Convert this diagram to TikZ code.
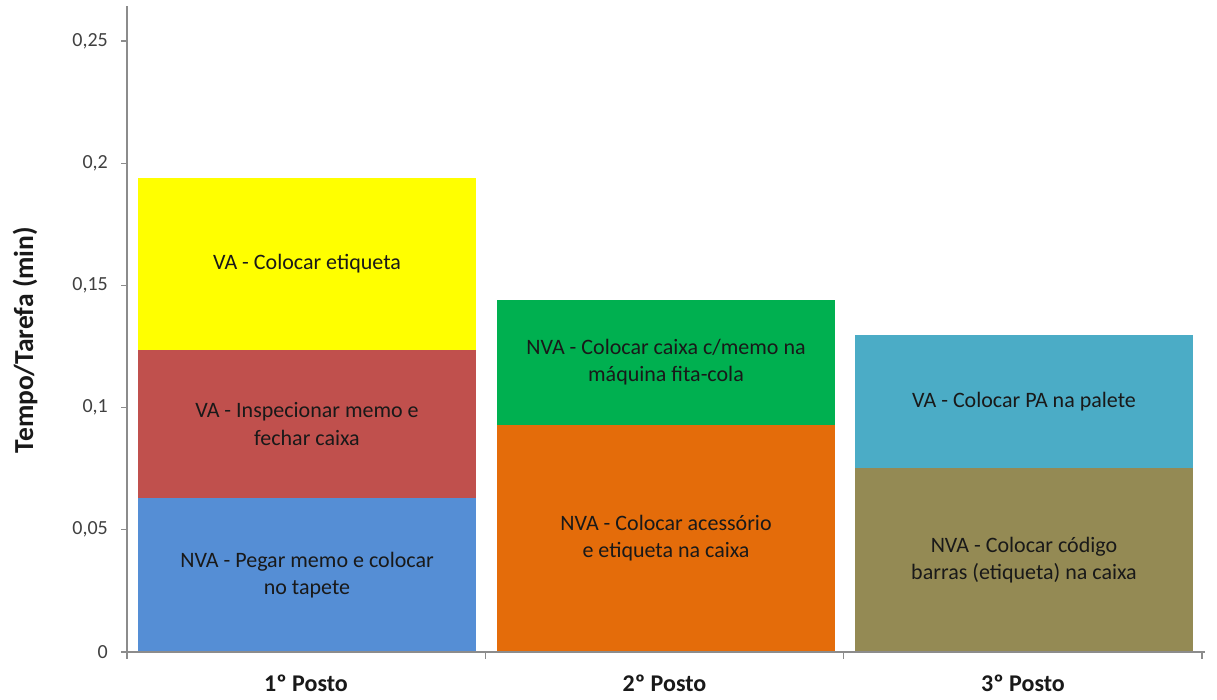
\documentclass[tikz,border=0pt]{standalone}
\usepackage{fontspec}
\setmainfont{Carlito}
\definecolor{segyellow}{HTML}{FFFF00}
\definecolor{segred}{HTML}{C0504D}
\definecolor{segblue}{HTML}{558ED5}
\definecolor{seggreen}{HTML}{00B050}
\definecolor{segorange}{HTML}{E46C0A}
\definecolor{segcyan}{HTML}{4BACC6}
\definecolor{segolive}{HTML}{948A54}
\definecolor{axisgray}{HTML}{8C8C8C}
\definecolor{ticktext}{HTML}{404040}
\tikzset{
  seglabel/.style={align=center, text=black!90, font=\fontsize{22}{27.5}\selectfont, inner sep=0pt},
  axisline/.style={draw=axisgray, line width=1.3pt},
  ticklabel/.style={anchor=east, text=ticktext, font=\fontsize{20}{22}\selectfont, inner sep=0pt},
  catlabel/.style={text=black!90, font=\fontsize{24}{28}\selectfont\bfseries, inner sep=0pt},
  axistitle/.style={rotate=90, text=black!90, font=\fontsize{27.5}{31}\selectfont\bfseries, inner sep=0pt}
}
\begin{document}
\begin{tikzpicture}[x=1pt, y=1pt]
\useasboundingbox (0,0) rectangle (1217,700);
\fill[white] (0,0) rectangle (1217,700);

% plot area: value 0 sits 48pt above the bottom edge, 1 min = 2444pt
\begin{scope}[yshift=48pt, y=2444pt]
  % 1º Posto
  \fill[segblue]   (138,0)      rectangle (476,0.0630);
  \fill[segred]    (138,0.0630) rectangle (476,0.1236);
  \fill[segyellow] (138,0.1236) rectangle (476,0.1939);
  % 2º Posto
  \fill[segorange] (497,0)      rectangle (835,0.0929);
  \fill[seggreen]  (497,0.0929) rectangle (835,0.1440);
  % 3º Posto
  \fill[segolive]  (855,0)      rectangle (1193,0.0753);
  \fill[segcyan]   (855,0.0753) rectangle (1193,0.1297);

  % segment labels
  \node[seglabel] (p1a) at (307,0.0315) {NVA - Pegar memo e colocar\\no tapete};
  \node[seglabel] (p1b) at (307,0.0933) {VA - Inspecionar memo e\\fechar caixa};
  \node[seglabel] (p1c) at (307,0.1588) {VA - Colocar etiqueta};
  \node[seglabel] (p2a) at (666,0.0465) {NVA - Colocar acessório\\e etiqueta na caixa};
  \node[seglabel] (p2b) at (666,0.1185) {NVA - Colocar caixa c/memo na\\máquina fita-cola};
  \node[seglabel] (p3a) at (1024,0.0376) {NVA - Colocar código\\barras (etiqueta) na caixa};
  \node[seglabel] (p3b) at (1024,0.1025) {VA - Colocar PA na palete};

  % value axis
  \coordinate (yorigin) at (127,0);
  \coordinate (ytop) at (127,0.2644);
  \draw[axisline] (yorigin) -- (ytop);
  \foreach \v/\t [count=\i] in {0/0, 0.05/{0,05}, 0.1/{0,1}, 0.15/{0,15}, 0.2/{0,2}, 0.25/{0,25}} {
    \coordinate (yt\i) at (127,\v);
    \draw[axisline] (yt\i) -- ++(-6pt,0);
    \node[ticklabel] (yl\i) at ([xshift=-19pt]yt\i) {\t};
  }

  % category axis
  \coordinate (xend) at (1205,0);
  \draw[axisline] (yorigin) -- (xend);
  \foreach \x [count=\i] in {127,485.3,843.7,1202} {
    \coordinate (xt\i) at (\x,0);
    \draw[axisline] (xt\i) -- ++(0,-7pt);
  }
  \node[catlabel] (c1) at ([yshift=-31pt]306,0) {1º Posto};
  \node[catlabel] (c2) at ([yshift=-31pt]664.5,0) {2º Posto};
  \node[catlabel] (c3) at ([yshift=-31pt]1023,0) {3º Posto};
\end{scope}

\node[axistitle] (ytitle) at (25,360) {Tempo/Tarefa (min)};
\end{tikzpicture}
\end{document}
